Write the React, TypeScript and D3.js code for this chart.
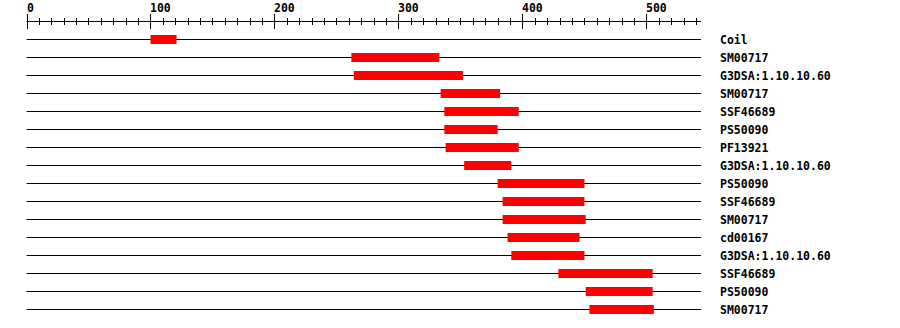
import React from "react";
import * as d3 from "d3";

const labels = [
  "Coil", "SM00717", "G3DSA:1.10.10.60", "SM00717", "SSF46689", "PS50090", "PF13921",
  "G3DSA:1.10.10.60", "PS50090", "SSF46689", "SM00717", "cd00167", "G3DSA:1.10.10.60",
  "SSF46689", "PS50090", "SM00717",
];
const starts = [100, 262, 264, 334, 337, 337, 338, 353, 380, 384, 384, 388, 391, 429, 451, 454];
const ends = [121, 333, 352, 382, 397, 380, 397, 391, 450, 450, 451, 446, 450, 505, 505, 506];
const proteinLength = 544;
const majorTicks = [0, 100, 200, 300, 400, 500];

export default function App() {
  const x = d3.scaleLinear().domain([0, proteinLength]).range([26.5, 701]);
  const minor = d3.range(0, proteinLength, 10);
  const y0 = 39.5;
  const step = 18;
  const font = "'DejaVu Sans Mono', monospace";
  return (
    <svg width={900} height={328} style={{ position: "absolute", left: 0, top: 0, background: "#fff" }}>
      <g>
        <line x1={x(0)} x2={x(proteinLength)} y1={21.5} y2={21.5} stroke="#000" strokeWidth={1} />
        {minor.map((v) => {
          const isMajor = v % 100 === 0;
          const xx = Math.round(x(v)) + 0.5;
          return (
            <line key={v} x1={xx} x2={xx} y1={isMajor ? 14 : 18} y2={isMajor ? 29 : 25} stroke="#000" strokeWidth={1} />
          );
        })}
        {majorTicks.map((v) => (
          <text key={v} x={Math.round(x(v))} y={12} fontFamily={font} fontWeight="bold" fontSize={11.5} fill="#000">
            {v}
          </text>
        ))}
      </g>
      {labels.map((lab, i) => {
        const yy = y0 + i * step;
        return (
          <g key={i}>
            <line x1={x(0)} x2={x(proteinLength)} y1={yy} y2={yy} stroke="#000" strokeWidth={1} />
            <rect x={x(starts[i])} y={yy - 4.5} width={x(ends[i]) - x(starts[i])} height={9} fill="#ff0000" />
            <text x={720} y={yy + 4} fontFamily={font} fontWeight="bold" fontSize={11.5} fill="#000">
              {lab}
            </text>
          </g>
        );
      })}
    </svg>
  );
}
